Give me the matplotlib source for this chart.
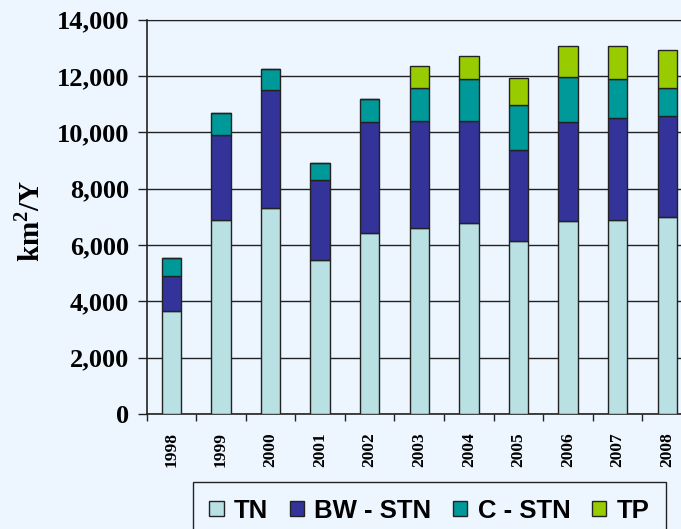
import numpy as np
import matplotlib
matplotlib.use("Agg")
import matplotlib.pyplot as plt

years = ["1998", "1999", "2000", "2001", "2002", "2003", "2004", "2005", "2006", "2007", "2008"]
# stacked component values (km2 per year)
tn = [3670, 6890, 7320, 5470, 6420, 6600, 6790, 6130, 6850, 6900, 6980]
bw_stn = [1230, 3010, 4180, 2850, 3930, 3800, 3610, 3230, 3500, 3610, 3610]
c_stn = [630, 800, 760, 580, 820, 1180, 1480, 1610, 1620, 1370, 990]
tp = [0, 0, 0, 0, 0, 770, 840, 960, 1090, 1180, 1340]

NAMES = ["TN", "BW - STN", "C - STN", "TP"]
COLORS = ["#b9e0e3", "#333399", "#009999", "#99cc00"]
BG = "#edf6ff"

plt.rcParams["mathtext.fontset"] = "custom"
plt.rcParams["mathtext.rm"] = "Liberation Serif:bold"
plt.rcParams["mathtext.bf"] = "Liberation Serif:bold"

fig = plt.figure(figsize=(6.81, 5.29), dpi=100)
fig.patch.set_facecolor(BG)
ax = fig.add_axes([146.5 / 681, 1 - 414 / 529, (692 - 146.5) / 681, (414 - 19.6) / 529])
ax.set_facecolor(BG)

x = np.arange(len(years))
bottom = np.zeros(len(years))
handles = []
for vals, name, col in zip([tn, bw_stn, c_stn, tp], NAMES, COLORS):
    v = np.array(vals, dtype=float)
    h = ax.bar(x, v, 0.39, bottom=bottom, color=col, edgecolor="#222222",
               linewidth=1.0, label=name, zorder=3)
    handles.append(h)
    bottom += v

ax.set_xlim(-0.5, len(years) - 0.5)
ax.set_ylim(0, 14000)
ax.set_yticks(np.arange(0, 14001, 2000))
ax.set_yticklabels([f"{v:,}" for v in range(0, 14001, 2000)],
                   fontfamily="Liberation Serif", fontweight="bold", fontsize=19)
ax.yaxis.grid(True, color="#222222", linewidth=1.0, zorder=0)

ax.set_xticks(x)
ax.set_xticklabels(years, rotation=90, fontfamily="Liberation Serif",
                   fontweight="bold", fontsize=12.5, va="top")
ax.set_xticks(np.arange(-0.5, len(years), 1.0), minor=True)
ax.tick_params(axis="x", which="major", length=0, pad=13)
ax.tick_params(axis="x", which="minor", length=5, width=1, direction="out", color="#222222")
ax.tick_params(axis="y", length=6.5, width=1, direction="out", pad=6, color="#222222")

ax.spines["right"].set_visible(False)
for s in ["top", "left", "bottom"]:
    ax.spines[s].set_color("#222222")
ax.spines["left"].set_linewidth(1.2)
ax.spines["bottom"].set_linewidth(1.2)

fig.text(30 / 681, 1 - 221 / 529, "km$^{2}$/Y", rotation=90, ha="center", va="center",
         fontfamily="Liberation Serif", fontweight="bold", fontsize=21)

leg = fig.legend(handles=handles, labels=NAMES, loc="upper left",
                 bbox_to_anchor=(192.7 / 681, 1 - 482 / 529), ncol=4,
                 prop={"family": "Liberation Sans", "weight": "bold", "size": 18.5},
                 handlelength=0.55, handleheight=0.55, handletextpad=0.4,
                 columnspacing=0.85, borderpad=0.65, borderaxespad=0, fancybox=False,
                 frameon=True, facecolor=BG, edgecolor="#222222", framealpha=1)
leg.get_frame().set_linewidth(1.0)

fig.savefig("out.png", dpi=100, facecolor=BG)
